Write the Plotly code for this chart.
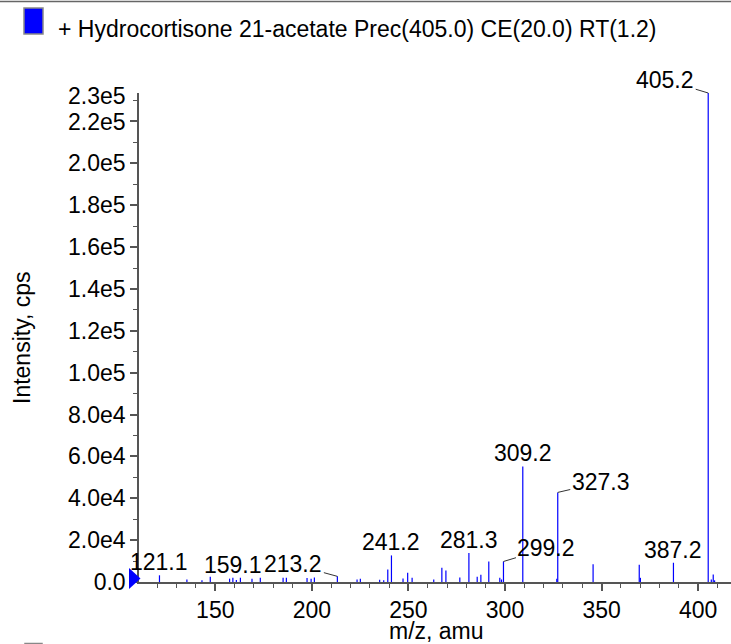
import plotly.graph_objects as go

# ---------------- data ----------------
mz = [121.1, 135.3, 143.1, 147.4, 157.4, 159.1, 160.9, 163.0, 169.0, 173.3,
      185.1, 186.8, 197.5, 199.6, 201.3, 213.2, 223.4, 225.1, 235.1, 237.2,
      239.3, 241.2, 247.2, 249.6, 251.9, 263.1, 267.3, 269.4, 276.6, 281.3,
      285.6, 287.5, 291.6, 297.3, 298.2, 299.2, 309.2, 326.8, 327.3, 345.6,
      369.5, 370.1, 387.2, 405.2, 406.8, 407.8, 408.5]
intensity = [3200, 1200, 800, 2500, 1600, 2000, 900, 2000, 1600, 2000,
             2000, 2000, 1900, 1600, 2200, 2700, 1200, 1600, 1100, 800,
             6000, 12700, 1700, 4400, 2000, 1200, 6800, 5500, 2200, 13800,
             2500, 3500, 9800, 2000, 1200, 9800, 55200, 1600, 42800, 8500,
             8300, 2000, 9200, 233600, 1200, 3600, 800]

label_mz = [121.1, 159.1, 213.2, 241.2, 281.3, 299.2, 309.2, 327.3, 387.2, 405.2]
label_text = ["121.1", "159.1", "213.2", "241.2", "281.3", "299.2", "309.2", "327.3", "387.2", "405.2"]

y_tickvals = [0, 20000, 40000, 60000, 80000, 100000, 120000, 140000, 160000, 180000, 200000, 220000]
y_ticktext = ["0.0", "2.0e4", "4.0e4", "6.0e4", "8.0e4", "1.0e5", "1.2e5", "1.4e5", "1.6e5", "1.8e5", "2.0e5", "2.2e5"]
y_top_tick = 230000
y_top_text = "2.3e5"

title_text = "+ Hydrocortisone 21-acetate Prec(405.0) CE(20.0) RT(1.2)"
x_title = "m/z, amu"
y_title = "Intensity, cps"

# ---------------- styling / layout helpers ----------------
W, H = 731, 644
ML, MR, MT, MB = 139, 0, 93, 62
PW, PH = W - ML - MR, H - MT - MB
FONT = "Liberation Sans, Arial, Helvetica, sans-serif"
AX = "#555555"
BLUE = "#0000ff"

def px2x(px):
    return (px - ML) / PW

def py2y(py):
    return (H - MB - py) / PH

# leader-line offsets (pixels) for labels that have them
leaders = {213.2: (-44, -12), 299.2: (43, -13), 327.3: (43, -10), 405.2: (-43, -13)}

# ---------------- spectrum sticks ----------------
xs, ys = [], []
for m, v in zip(mz, intensity):
    xs += [m, m, None]
    ys += [0, v, None]

fig = go.Figure()
fig.add_trace(go.Scatter(x=xs, y=ys, mode="lines",
                         line=dict(color=BLUE, width=1.2),
                         hoverinfo="skip", showlegend=False))

annotations = []
val = dict(zip(mz, intensity))
for m, t in zip(label_mz, label_text):
    v = val[m]
    if m in leaders:
        ax, ay = leaders[m]
        annotations.append(dict(x=m, y=v, xref="x", yref="y", text=t,
                                showarrow=True, arrowhead=0, arrowwidth=1,
                                arrowcolor="#333333", ax=ax, ay=ay, standoff=0,
                                font=dict(size=23, color="black", family=FONT)))
    else:
        annotations.append(dict(x=m, y=v, xref="x", yref="y", text=t,
                                showarrow=False, yanchor="middle", yshift=13,
                                font=dict(size=23, color="black", family=FONT)))

# top y label (2.3e5)
annotations.append(dict(x=px2x(128), y=y_top_tick, xref="paper", yref="y",
                        text=y_top_text, showarrow=False, xanchor="right",
                        yanchor="middle", yshift=5,
                        font=dict(size=23, color="black", family=FONT)))
# title
annotations.append(dict(x=px2x(56), y=py2y(29), xref="paper", yref="paper",
                        text=title_text, showarrow=False, xanchor="left",
                        yanchor="middle",
                        font=dict(size=23, color="black", family=FONT)))
# axis titles
annotations.append(dict(x=px2x(22), y=py2y(338), xref="paper", yref="paper",
                        text=y_title, showarrow=False, textangle=-90,
                        xanchor="center", yanchor="middle",
                        font=dict(size=23, color="black", family=FONT)))
annotations.append(dict(x=px2x(436), y=py2y(631), xref="paper", yref="paper",
                        text=x_title, showarrow=False,
                        xanchor="center", yanchor="middle",
                        font=dict(size=23, color="black", family=FONT)))

shapes = [
    # top border line
    dict(type="line", xref="paper", yref="paper", x0=px2x(0), x1=px2x(W),
         y0=py2y(1.5), y1=py2y(1.5), line=dict(color="#666666", width=1.5)),
    # legend square
    dict(type="rect", xref="paper", yref="paper", x0=px2x(24), x1=px2x(43),
         y0=py2y(34), y1=py2y(8), fillcolor=BLUE, line=dict(color="#888888", width=1.5)),
    # second legend square (cut off at bottom)
    dict(type="rect", xref="paper", yref="paper", x0=px2x(25), x1=px2x(42),
         y0=py2y(670), y1=py2y(643.5), fillcolor=BLUE, line=dict(color="#888888", width=1.5)),
    # blue start marker triangle
    dict(type="path", xref="paper", yref="paper",
         path="M {} {} L {} {} L {} {} Z".format(px2x(129), py2y(568), px2x(140.5), py2y(578.5),
                                               px2x(129), py2y(589)),
         fillcolor=BLUE, line=dict(width=0)),
]

fig.update_layout(
    width=W, height=H,
    margin=dict(l=ML, r=MR, t=MT, b=MB, pad=0),
    plot_bgcolor="white", paper_bgcolor="white",
    showlegend=False,
    font=dict(family=FONT, size=23, color="black"),
    annotations=annotations,
    shapes=shapes,
    xaxis=dict(range=[110.5, 417], tickmode="linear", tick0=0, dtick=50,
               ticks="outside", ticklen=7, tickwidth=1.5, tickcolor=AX,
               showline=True, linecolor=AX, linewidth=1.5,
               showgrid=False, zeroline=False,
               tickfont=dict(size=23, color="black", family=FONT),
               minor=dict(tickmode="linear", tick0=0, dtick=10, ticks="outside",
                          ticklen=4, tickwidth=1.2, tickcolor=AX, showgrid=False)),
    yaxis=dict(range=[0, 233600], tickmode="array", tickvals=y_tickvals,
               ticktext=y_ticktext,
               ticks="outside", ticklen=7, tickwidth=1.5, tickcolor=AX,
               showline=True, linecolor=AX, linewidth=1.5,
               showgrid=False, zeroline=False,
               tickfont=dict(size=23, color="black", family=FONT),
               minor=dict(tickmode="array",
                          tickvals=[t + 10000 for t in y_tickvals],
                          ticks="outside", ticklen=4, tickwidth=1.2,
                          tickcolor=AX, showgrid=False)),
)

fig.write_html("out.html", config={"displayModeBar": False},
               post_script="document.body.style.margin='0px';document.body.style.overflow='hidden';")
